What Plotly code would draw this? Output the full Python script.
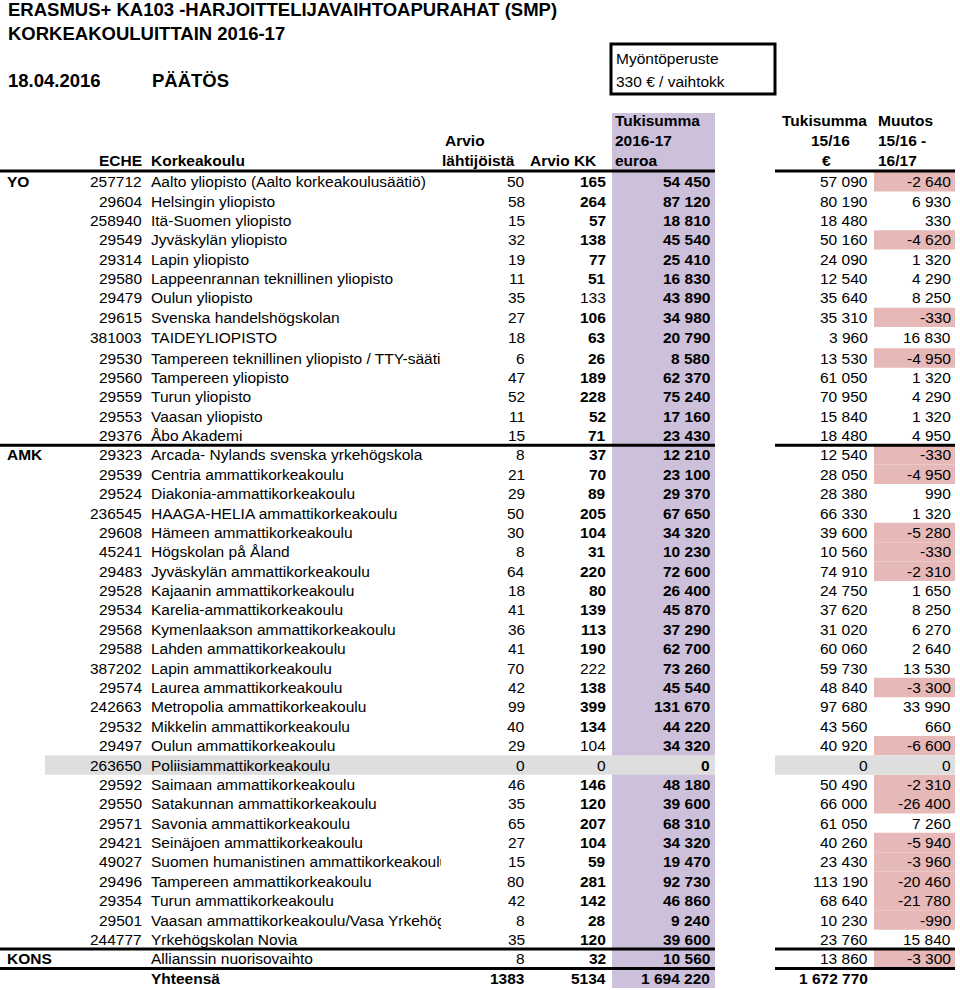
import plotly.graph_objects as go

# ---------------- data ----------------
groups = ["YO"] + [""] * 13 + ["AMK"] + [""] * 25 + ["KONS"]
eche = ["257712", "29604", "258940", "29549", "29314", "29580", "29479", "29615", "381003",
        "29530", "29560", "29559", "29553", "29376",
        "29323", "29539", "29524", "236545", "29608", "45241", "29483", "29528", "29534",
        "29568", "29588", "387202", "29574", "242663", "29532", "29497", "263650", "29592",
        "29550", "29571", "29421", "49027", "29496", "29354", "29501", "244777", ""]
names = ["Aalto yliopisto (Aalto korkeakoulusäätiö)", "Helsingin yliopisto", "Itä-Suomen yliopisto",
         "Jyväskylän yliopisto", "Lapin yliopisto", "Lappeenrannan teknillinen yliopisto",
         "Oulun yliopisto", "Svenska handelshögskolan", "TAIDEYLIOPISTO",
         "Tampereen teknillinen yliopisto / TTY-säätiö", "Tampereen yliopisto", "Turun yliopisto",
         "Vaasan yliopisto", "Åbo Akademi",
         "Arcada- Nylands svenska yrkehögskola", "Centria ammattikorkeakoulu",
         "Diakonia-ammattikorkeakoulu", "HAAGA-HELIA ammattikorkeakoulu", "Hämeen ammattikorkeakoulu",
         "Högskolan på Åland", "Jyväskylän ammattikorkeakoulu", "Kajaanin ammattikorkeakoulu",
         "Karelia-ammattikorkeakoulu", "Kymenlaakson ammattikorkeakoulu", "Lahden ammattikorkeakoulu",
         "Lapin ammattikorkeakoulu", "Laurea ammattikorkeakoulu", "Metropolia ammattikorkeakoulu",
         "Mikkelin ammattikorkeakoulu", "Oulun ammattikorkeakoulu", "Poliisiammattikorkeakoulu",
         "Saimaan ammattikorkeakoulu", "Satakunnan ammattikorkeakoulu", "Savonia ammattikorkeakoulu",
         "Seinäjoen ammattikorkeakoulu", "Suomen humanistinen ammattikorkeakoulu",
         "Tampereen ammattikorkeakoulu", "Turun ammattikorkeakoulu",
         "Vaasan ammattikorkeakoulu/Vasa Yrkehögskola", "Yrkehögskolan Novia",
         "Allianssin nuorisovaihto"]
arvio_lahtijat = [50, 58, 15, 32, 19, 11, 35, 27, 18, 6, 47, 52, 11, 15,
                  8, 21, 29, 50, 30, 8, 64, 18, 41, 36, 41, 70, 42, 99, 40, 29, 0, 46, 35, 65, 27,
                  15, 80, 42, 8, 35, 8]
arvio_kk = [165, 264, 57, 138, 77, 51, 133, 106, 63, 26, 189, 228, 52, 71,
            37, 70, 89, 205, 104, 31, 220, 80, 139, 113, 190, 222, 138, 399, 134, 104, 0, 146,
            120, 207, 104, 59, 281, 142, 28, 120, 32]
tuki_1617 = [54450, 87120, 18810, 45540, 25410, 16830, 43890, 34980, 20790, 8580, 62370, 75240,
             17160, 23430,
             12210, 23100, 29370, 67650, 34320, 10230, 72600, 26400, 45870, 37290, 62700, 73260,
             45540, 131670, 44220, 34320, 0, 48180, 39600, 68310, 34320, 19470, 92730, 46860,
             9240, 39600, 10560]
tuki_1516 = [57090, 80190, 18480, 50160, 24090, 12540, 35640, 35310, 3960, 13530, 61050, 70950,
             15840, 18480,
             12540, 28050, 28380, 66330, 39600, 10560, 74910, 24750, 37620, 31020, 60060, 59730,
             48840, 97680, 43560, 40920, 0, 50490, 66000, 61050, 40260, 23430, 113190, 68640,
             10230, 23760, 13860]
muutos = [-2640, 6930, 330, -4620, 1320, 4290, 8250, -330, 16830, -4950, 1320, 4290, 1320, 4950,
          -330, -4950, 990, 1320, -5280, -330, -2310, 1650, 8250, 6270, 2640, 13530, -3300, 33990,
          660, -6600, 0, -2310, -26400, 7260, -5940, -3960, -20460, -21780, -990, 15840, -3300]
total_label = "Yhteensä"
total_lahtijat = 1383
total_kk = 5134
total_1617 = 1694220
total_1516 = 1672770

title_lines = ["ERASMUS+ KA103 -HARJOITTELIJAVAIHTOAPURAHAT (SMP)", "KORKEAKOULUITTAIN 2016-17"]
date_text = "18.04.2016"
decision_text = "PÄÄTÖS"
basis_lines = ["Myöntöperuste", "330 € / vaihtokk"]
hdr_eche, hdr_name = "ECHE", "Korkeakoulu"
hdr_arvio = ["Arvio", "lähtijöistä"]
hdr_kk = "Arvio KK"
hdr_tuki = ["Tukisumma", "2016-17", "euroa"]
hdr_prev = ["Tukisumma", "15/16", "€"]
hdr_muutos = ["Muutos", "15/16 -", "16/17"]

# rows whose "Arvio KK" value is shown in regular weight
kk_regular = {"Oulun yliopisto", "Lapin ammattikorkeakoulu", "Oulun ammattikorkeakoulu",
              "Poliisiammattikorkeakoulu"}
highlight_row = "Poliisiammattikorkeakoulu"

# ---------------- layout helpers ----------------
FONT = "Liberation Sans, Arial, Helvetica, sans-serif"
FS = 15.5
PURPLE = "#ccc0da"
PINK = "#e6b8b7"
GREY = "#dedede"

n_rows = len(names) + 1
heights = [19.38] * n_rows
heights[names.index("TAIDEYLIOPISTO")] = 21.3
tops = []
t = 172.0
for h in heights:
    tops.append(t)
    t += h
centers = [tp + h / 2 for tp, h in zip(tops, heights)]

def fmt(v):
    return f"{v:,}".replace(",", " ")

anns = []
shapes = []

def txt(x, y, s, anchor="left", bold=False, size=FS, width=None):
    a = dict(x=x, y=y, xref="x", yref="y", text=(f"<b>{s}</b>" if bold else s),
             showarrow=False, xanchor=anchor, yanchor="middle", borderpad=0,
             font=dict(family=FONT, size=size, color="black"))
    if width is not None:
        a.update(width=width, align="left")
    anns.append(a)

def rect(x0, x1, y0, y1, color):
    shapes.append(dict(type="rect", xref="x", yref="y", x0=x0, x1=x1, y0=y0, y1=y1,
                       fillcolor=color, line=dict(width=0), layer="below"))

def hline(y, x0, x1, w=3):
    shapes.append(dict(type="line", xref="x", yref="y", x0=x0, x1=x1, y0=y, y1=y,
                       line=dict(color="black", width=w), layer="above"))

# column x positions (px)
X_GROUP, X_ECHE, X_NAME, NAME_W = 6, 143, 150, 290
X_LAHT, X_KK, X_TUKI, X_PREV, X_MUUT = 526, 607, 711, 869, 952
TUKI_L, TUKI_R = 612, 715
RIGHT_L, RIGHT_R = 775, 955
MUUT_L = 874

# backgrounds
rect(TUKI_L, TUKI_R, 113, 988, PURPLE)
for i, v in enumerate(muutos):
    if v < 0:
        rect(MUUT_L, RIGHT_R, tops[i], tops[i] + heights[i], PINK)
hi = names.index(highlight_row)
rect(45, TUKI_R, tops[hi], tops[hi] + heights[hi], GREY)
rect(RIGHT_L, RIGHT_R, tops[hi], tops[hi] + heights[hi], GREY)

# rule lines
ib = names.index("Arcada- Nylands svenska yrkehögskola")
ik = len(names) - 1
for yb in [tops[0] - 1, tops[ib], tops[ik], tops[ik + 1]]:
    hline(yb, 0, TUKI_R)
    hline(yb, RIGHT_L, RIGHT_R)

# basis box
shapes.append(dict(type="rect", xref="x", yref="y", x0=611, x1=775, y0=44, y1=94,
                   line=dict(color="black", width=3), fillcolor="rgba(0,0,0,0)", layer="above"))

# title
txt(7, 9, title_lines[0], bold=True, size=18.5)
txt(7, 33, title_lines[1], bold=True, size=18.5)
txt(7, 80.5, date_text, bold=True, size=18.5)
txt(151, 80.5, decision_text, bold=True, size=18.5)
txt(615, 58.5, basis_lines[0])
txt(615, 81, basis_lines[1])

# headers
txt(X_ECHE, 160, hdr_eche, "right", True)
txt(X_NAME, 160, hdr_name, "left", True)
txt(444, 140, hdr_arvio[0], "left", True)
txt(441, 160, hdr_arvio[1], "left", True)
txt(598, 160, hdr_kk, "right", True)
for k, yy in enumerate([120, 140, 160]):
    txt(614, yy, hdr_tuki[k], "left", True)
    txt(877, yy, hdr_muutos[k], "left", True)
txt(824, 120, hdr_prev[0], "center", True)
txt(830.5, 140, hdr_prev[1], "center", True)
txt(826.5, 160, hdr_prev[2], "center", True)

# body
for i in range(len(names)):
    y = centers[i]
    if groups[i]:
        txt(X_GROUP, y, groups[i], "left", True)
    if eche[i]:
        txt(X_ECHE, y, eche[i], "right")
    txt(X_NAME, y, names[i], "left", width=NAME_W)
    txt(X_LAHT, y, fmt(arvio_lahtijat[i]), "right")
    txt(X_KK, y, fmt(arvio_kk[i]), "right", names[i] not in kk_regular)
    txt(X_TUKI, y, fmt(tuki_1617[i]), "right", True)
    txt(X_PREV, y, fmt(tuki_1516[i]), "right")
    txt(X_MUUT, y, fmt(muutos[i]), "right")

yt = centers[-1]
txt(X_NAME, yt, total_label, "left", True)
txt(X_LAHT, yt, str(total_lahtijat), "right", True)
txt(X_KK, yt, str(total_kk), "right", True)
txt(X_TUKI, yt, fmt(total_1617), "right", True)
txt(X_PREV, yt, fmt(total_1516), "right", True)

fig = go.Figure(go.Scatter(x=[0], y=[0], mode="markers", marker=dict(opacity=0),
                           hoverinfo="skip", showlegend=False))
fig.update_layout(
    width=960, height=990, margin=dict(l=0, r=0, t=0, b=0),
    paper_bgcolor="white", plot_bgcolor="white", showlegend=False,
    xaxis=dict(range=[0, 960], visible=False, fixedrange=True),
    yaxis=dict(range=[990, 0], visible=False, fixedrange=True),
    annotations=anns, shapes=shapes,
)
fig.write_html("out.html", config={"displayModeBar": False},
               post_script="document.body.style.margin='0';document.body.style.overflow='hidden';")
